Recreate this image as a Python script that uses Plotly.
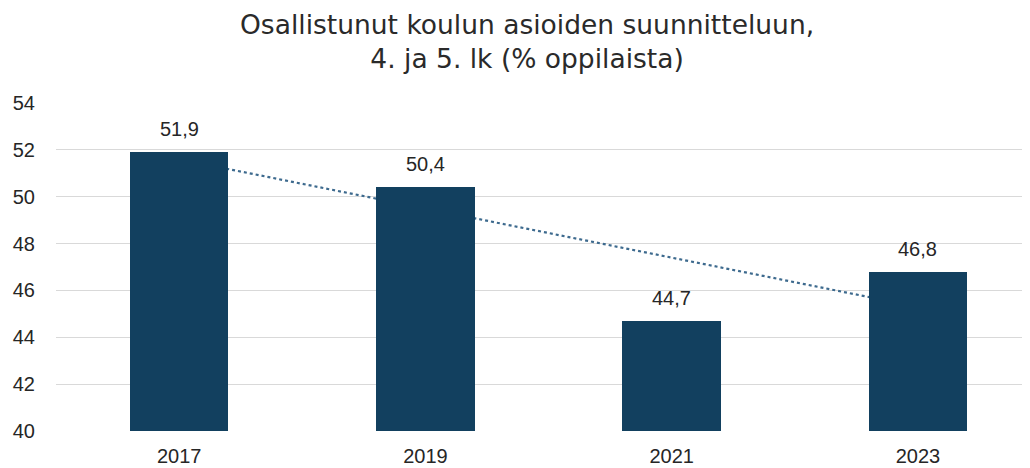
import numpy as np
import plotly.graph_objects as go

years = ["2017", "2019", "2021", "2023"]
values = [51.9, 50.4, 44.7, 46.8]
title_lines = ["Osallistunut koulun asioiden suunnitteluun,", "4. ja 5. lk (% oppilaista)"]

xpos = list(range(len(years)))
slope, intercept = np.polyfit(xpos, values, 1)
trend_x = [xpos[0], xpos[-1]]
trend_y = [intercept + slope * v for v in trend_x]

BAR = "#12405f"
TXT = "#262626"
NUM_FONT = "Liberation Sans, Arial, sans-serif"

fig = go.Figure()
fig.add_trace(go.Scatter(
    x=trend_x, y=trend_y, mode="lines", xaxis="x", yaxis="y",
    line=dict(color="#3d6a8e", width=2.2, dash="dot"), hoverinfo="skip", showlegend=False,
))
fig.add_trace(go.Bar(
    x=xpos, y=values, xaxis="x", yaxis="y2", width=0.4,
    marker=dict(color=BAR, line=dict(width=0)), showlegend=False,
))

for xv, v in zip(xpos, values):
    fig.add_annotation(
        x=xv, y=v, xref="x", yref="y2", text=f"{v:.1f}".replace(".", ","),
        showarrow=False, yanchor="middle", yshift=23,
        font=dict(family=NUM_FONT, size=20, color=TXT),
    )

fig.add_annotation(
    x=0.4836, y=1.186, xref="paper", yref="paper", xanchor="center", yanchor="middle",
    text="<br>".join(title_lines), showarrow=False, align="center",
    font=dict(family="DejaVu Sans, sans-serif", size=26.5, color="#2a2a2a"),
)

yax = dict(range=[40, 54], dtick=2, tick0=40)
fig.update_layout(
    width=1030, height=468,
    margin=dict(l=48, r=8, t=95, b=45, autoexpand=False),
    paper_bgcolor="white", plot_bgcolor="white",
    xaxis=dict(
        range=[-0.5, 3.455], tickvals=xpos, ticktext=years, showgrid=False, zeroline=False,
        showline=False, ticks="", ticklabelstandoff=11, automargin=False,
        tickfont=dict(family=NUM_FONT, size=20, color=TXT),
    ),
    yaxis=dict(
        **yax, showgrid=True, gridcolor="#d9d9d9", gridwidth=1.3, zeroline=False, showline=False,
        ticks="", ticklabelstandoff=20, automargin=False,
        tickfont=dict(family=NUM_FONT, size=20, color=TXT),
    ),
    yaxis2=dict(
        **yax, overlaying="y", showgrid=False, zeroline=False, showline=False,
        showticklabels=False, ticks="",
    ),
    bargap=0,
)
fig.write_html("out.html")
